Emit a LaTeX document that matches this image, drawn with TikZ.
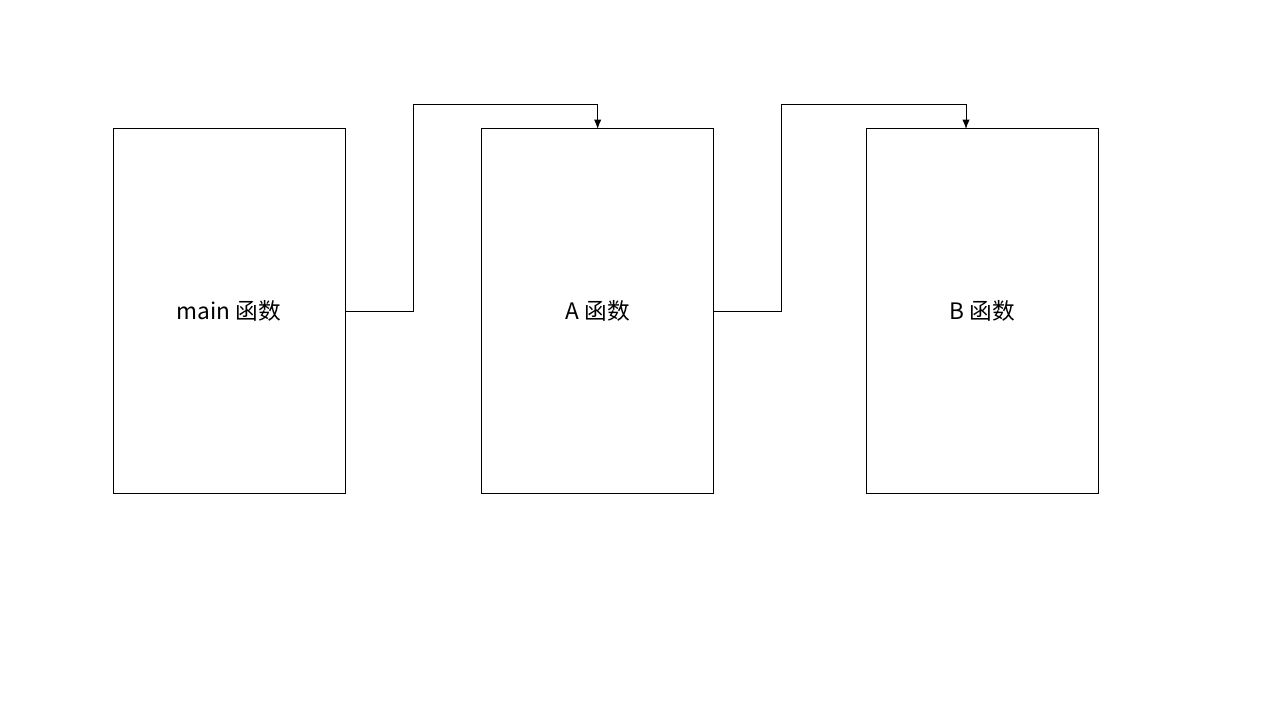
\documentclass[tikz,border=0pt]{standalone}
\usepackage{fontspec}
\setmainfont{Noto Sans CJK SC}
\usepackage{tikz}
\usetikzlibrary{arrows.meta,positioning}

\begin{document}
\begin{tikzpicture}[x=0.75pt, y=-0.75pt,
			func/.style = {draw, rectangle, thin, line width=0.75pt, minimum width=174pt, minimum height=273pt, inner sep=0pt, outer sep=0pt, font=\fontsize{17pt}{21pt}\selectfont},
			call/.style = {->, draw, line width=0.75pt},
			>={Latex[length=7pt,width=5.5pt]}]
			\useasboundingbox (0,0) rectangle (1280,720);
			
			% the three functions
			\node[func] (main) at (229,311) {main 函数};
			\node[func, right=102.5pt of main] (fa) {A 函数};
			\node[func, right=114.25pt of fa] (fb) {B 函数};
			
			% entry points on top of the callee
			\coordinate (ina) at (fa.north);
			\coordinate (inb) at ([xshift=-12pt]fb.north);
			
			% calls from each function to the next
			\draw[call] (main.east) -- ++(68,0) |- ([yshift=18pt]ina) -- (ina);
			\draw[call] (fa.east) -- ++(68,0) |- ([yshift=18pt]inb) -- (inb);
		\end{tikzpicture}
\end{document}
